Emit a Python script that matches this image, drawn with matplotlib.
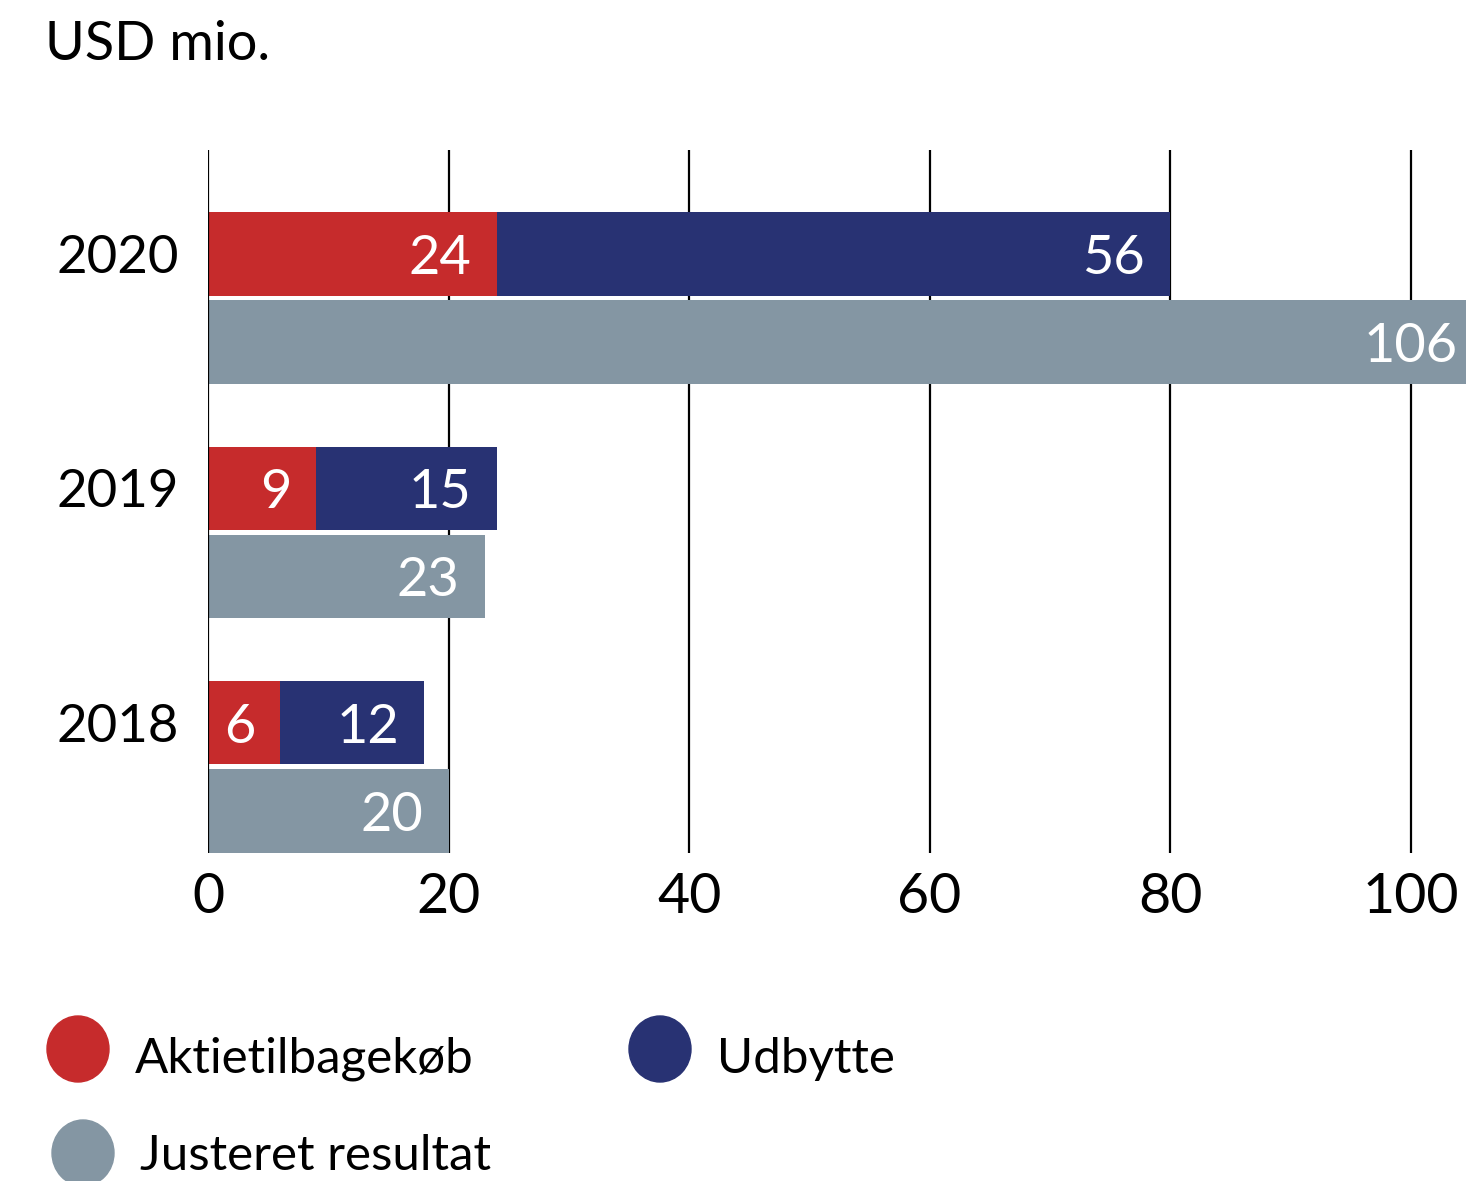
import matplotlib
matplotlib.use("Agg")
import matplotlib.pyplot as plt
from matplotlib.patches import Ellipse

plt.rcParams['font.family'] = ['Lato', 'DejaVu Sans']

# data
years = ['2020', '2019', '2018']
buyback = [24, 9, 6]          # Aktietilbagekøb
dividend = [56, 15, 12]       # Udbytte
adj_result = [106, 23, 20]    # Justeret resultat
series_names = ['Aktietilbagekøb', 'Udbytte', 'Justeret resultat']
xticks = [0, 20, 40, 60, 80, 100]

RED = '#C62B2C'
NAVY = '#283273'
GREY = '#8496A3'

W, H = 1466, 1181
fig = plt.figure(figsize=(W / 100, H / 100), dpi=100)

ax = fig.add_axes([208 / W, 1 - 853 / H, (W - 208) / W, 703 / H])

pos = list(range(len(years)))
h = 0.355
off = 0.188
top = [p - off for p in pos]
bot = [p + off for p in pos]

ax.barh(top, buyback, height=h, color=RED, zorder=2)
ax.barh(top, dividend, left=buyback, height=h, color=NAVY, zorder=2)
ax.barh(bot, adj_result, height=h, color=GREY, zorder=2)

def lab(x, y, v):
    ax.annotate(str(v), xy=(x, y), xytext=(-18, -3), textcoords='offset points',
                ha='right', va='center', color='white', fontsize=39, zorder=4,
                annotation_clip=False)

for i in pos:
    lab(buyback[i], top[i], buyback[i])
    lab(buyback[i] + dividend[i], top[i], dividend[i])
    lab(adj_result[i], bot[i], adj_result[i])

ax.set_xlim(0, 104.6)
ax.set_ylim(2.367, -0.631)

for t in xticks:
    ax.axvline(t, color='black', lw=1.6, zorder=3 if t == 0 else 1)

ax.set_xticks(xticks)
ax.set_xticklabels([str(t) for t in xticks], fontsize=40)
ax.set_yticks(top)
ax.set_yticklabels(years, fontsize=38)
ax.tick_params(axis='x', length=0, pad=14)
ax.tick_params(axis='y', length=0, pad=21)
for s in ax.spines.values():
    s.set_visible(False)

fig.text(45 / W, 1 - 45 / H, 'USD mio.', fontsize=39, ha='left', va='center')

# legend drawn in pixel space
lg = fig.add_axes([0, 0, 1, 1], zorder=-1)
lg.set_xlim(0, W)
lg.set_ylim(H, 0)
lg.axis('off')
legend_items = [(78, 1049, 135, 1059, RED), (660, 1049, 717, 1059, NAVY),
                (83, 1153, 140, 1156, GREY)]
for name, (cx, cy, tx, ty, c) in zip(series_names, legend_items):
    lg.add_patch(Ellipse((cx, cy), 62, 66, color=c))
    lg.text(tx, ty, name, fontsize=35.5, ha='left', va='center')

fig.savefig('out.png', dpi=100)
